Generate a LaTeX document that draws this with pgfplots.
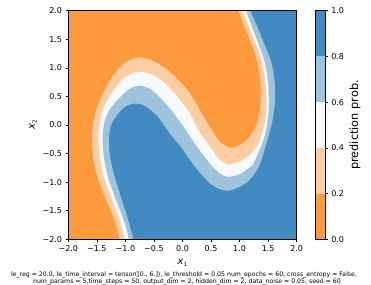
\documentclass[border=0pt]{standalone}
\usepackage{pgfplots}
\pgfplotsset{compat=1.18}
\usepackage{fontspec}
\setmainfont{DejaVu Sans}
\definecolor{c0}{RGB}{253,154,62}
\definecolor{c1}{RGB}{254,205,161}
\definecolor{c2}{RGB}{246,250,253}
\definecolor{c3}{RGB}{158,195,221}
\definecolor{c4}{RGB}{65,139,194}
\begin{document}
\begin{tikzpicture}
\useasboundingbox (0,0) rectangle (371pt,284pt);
\begin{axis}[at={(68.33pt,44.67pt)}, anchor=south west, scale only axis,
  width=228.33pt, height=228.67pt,
  xmin=-2, xmax=2, ymin=-2, ymax=2, axis on top,
  axis line style={line width=0.64pt},
  xtick={-2,-1.5,-1,-0.5,0,0.5,1,1.5,2},
  xticklabels={−2.0,−1.5,−1.0,−0.5,0.0,0.5,1.0,1.5,2.0},
  ytick={-2,-1.5,-1,-0.5,0,0.5,1,1.5,2},
  yticklabels={−2.0,−1.5,−1.0,−0.5,0.0,0.5,1.0,1.5,2.0},
  tick align=outside, major tick length=2.8pt,
  tick style={line width=0.64pt, black},
  xtick pos=bottom, ytick pos=left,
  tick label style={font=\fontsize{8}{9.6}\selectfont},
  xlabel={\textit{x}\raisebox{-0.35ex}{\fontsize{5.6}{6}\selectfont 1}},
  ylabel={\textit{x}\raisebox{-0.35ex}{\fontsize{5.6}{6}\selectfont 2}},
  label style={font=\fontsize{8}{9.6}\selectfont},
  every axis x label/.style={at={(axis description cs:0.5,-0.1037)}, anchor=center},
  every axis y label/.style={at={(axis description cs:-0.1547,0.5)}, anchor=center, rotate=90},
]
\addplot[fill=c4, draw=none] coordinates {(-2.5,-2.5) (2.5,-2.5) (2.5,2.5) (-2.5,2.5)} -- cycle;
\addplot[fill=c3, draw=none, smooth, tension=0.5] coordinates {
(-0.85,-2.2) (-0.862,-2) (-0.95,-1.67) (-1.083,-1.254) (-1.19,-0.9) (-1.27,-0.55) (-1.29,-0.2) (-1.24,0.02) (-1.13,0.2) (-0.99,0.33) (-0.82,0.375) (-0.65,0.33) (-0.43,0.146) (-0.22,-0.15) (0.0,-0.42) (0.13,-0.61) (0.30,-0.83) (0.48,-1.02) (0.65,-1.12) (0.80,-1.15) (1.0,-1.08) (1.18,-0.96) (1.35,-0.7) (1.47,-0.32) (1.57,0.05) (1.62,0.4) (1.61,0.8) (1.55,1.12) (1.44,1.4) (1.31,1.72) (1.19,2) (1.14,2.2) (-2.5,2.5) (-2.5,-2.5)} -- cycle;
\addplot[fill=c2, draw=none, smooth, tension=0.5] coordinates {
(-0.93,-2.2) (-0.943,-2) (-1.03,-1.67) (-1.188,-1.254) (-1.31,-0.9) (-1.38,-0.55) (-1.40,-0.2) (-1.37,0.05) (-1.29,0.25) (-1.13,0.45) (-0.95,0.62) (-0.76,0.69) (-0.56,0.63) (-0.38,0.47) (-0.20,0.27) (0.0,0.0) (0.15,-0.22) (0.30,-0.44) (0.48,-0.67) (0.65,-0.84) (0.80,-0.905) (1.0,-0.86) (1.12,-0.78) (1.24,-0.67) (1.42,-0.25) (1.50,0.15) (1.51,0.55) (1.48,0.9) (1.41,1.2) (1.31,1.47) (1.2,1.76) (1.11,2) (1.06,2.2) (-2.5,2.5) (-2.5,-2.5)} -- cycle;
\addplot[fill=c1, draw=none, smooth, tension=0.5] coordinates {
(-1.00,-2.2) (-1.013,-2) (-1.10,-1.67) (-1.258,-1.254) (-1.38,-0.9) (-1.45,-0.55) (-1.475,-0.2) (-1.44,0.1) (-1.36,0.35) (-1.23,0.58) (-1.07,0.78) (-0.90,0.90) (-0.74,0.935) (-0.55,0.89) (-0.35,0.77) (-0.15,0.57) (0.10,0.25) (0.30,-0.12) (0.48,-0.38) (0.65,-0.60) (0.80,-0.69) (1.0,-0.64) (1.15,-0.54) (1.30,-0.38) (1.42,-0.05) (1.47,0.3) (1.46,0.65) (1.42,0.95) (1.35,1.25) (1.25,1.5) (1.14,1.78) (1.045,2) (1.0,2.2) (-2.5,2.5) (-2.5,-2.5)} -- cycle;
\addplot[fill=c0, draw=none, smooth, tension=0.5] coordinates {
(-1.08,-2.2) (-1.10,-2) (-1.20,-1.65) (-1.363,-1.254) (-1.48,-0.95) (-1.55,-0.67) (-1.585,-0.32) (-1.575,-0.05) (-1.53,0.2) (-1.44,0.46) (-1.305,0.73) (-1.15,0.96) (-0.98,1.11) (-0.78,1.185) (-0.58,1.15) (-0.40,1.06) (-0.22,0.93) (0.0,0.72) (0.15,0.53) (0.30,0.27) (0.48,-0.03) (0.65,-0.28) (0.83,-0.395) (1.0,-0.35) (1.18,-0.2) (1.30,0.02) (1.36,0.3) (1.37,0.6) (1.34,0.95) (1.27,1.25) (1.17,1.5) (1.06,1.78) (0.978,2) (0.93,2.2) (-2.5,2.5) (-2.5,-2.5)} -- cycle;
\end{axis}
\begin{axis}[at={(315pt,44.67pt)}, anchor=south west, scale only axis,
  width=10pt, height=228.67pt,
  xmin=0, xmax=1, ymin=0, ymax=1, axis on top,
  axis line style={line width=0.64pt},
  xtick=\empty,
  ytick={0,0.2,0.4,0.6,0.8,1},
  yticklabels={0.0,0.2,0.4,0.6,0.8,1.0},
  yticklabel pos=right, ytick pos=right,
  tick align=outside, major tick length=2.8pt,
  tick style={line width=0.64pt, black},
  tick label style={font=\fontsize{8}{9.6}\selectfont},
  ylabel={prediction prob.},
  every axis y label/.style={at={(axis description cs:4.0,0.5)}, anchor=center, rotate=90, font=\fontsize{11.3}{13}\selectfont},
]
\addplot[fill=c0, draw=none] coordinates {(0,0) (1,0) (1,0.2) (0,0.2)} -- cycle;
\addplot[fill=c1, draw=none] coordinates {(0,0.2) (1,0.2) (1,0.4) (0,0.4)} -- cycle;
\addplot[fill=c2, draw=none] coordinates {(0,0.4) (1,0.4) (1,0.6) (0,0.6)} -- cycle;
\addplot[fill=c3, draw=none] coordinates {(0,0.6) (1,0.6) (1,0.8) (0,0.8)} -- cycle;
\addplot[fill=c4, draw=none] coordinates {(0,0.8) (1,0.8) (1,1) (0,1)} -- cycle;
\end{axis}
\node[font=\fontsize{6.2}{7}\selectfont, anchor=base] at (184pt,7.3pt) {le\_reg = 20.0, le\_time\_interval = tensor([0., 6.]), le\_threshold = 0.05 num\_epochs = 60, cross\_entropy = False,};
\node[font=\fontsize{6.2}{7}\selectfont, anchor=base] at (187pt,1pt) {num\_params = 5,time\_steps = 50, output\_dim = 2, hidden\_dim = 2, data\_noise = 0.05, seed = 60};
\end{tikzpicture}
\end{document}
